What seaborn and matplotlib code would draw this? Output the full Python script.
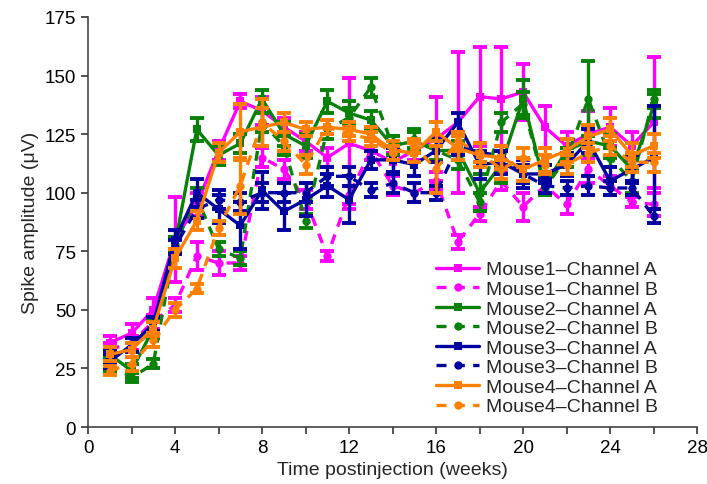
import numpy as np
import pandas as pd
import matplotlib
matplotlib.use("Agg")
import matplotlib.pyplot as plt
import seaborn as sns
from matplotlib.ticker import MultipleLocator, FuncFormatter

weeks = list(range(1, 27))

m1a = [36, 40, 50, 80, 95, 118, 139, 135, 128, 122, 115, 121, 118, 113, 118, 123, 130, 141, 140, 143, 128, 120, 125, 128, 120, 130]
m1a_err = [3, 4, 5, 18, 5, 4, 3, 6, 4, 4, 4, 28, 4, 4, 4, 18, 30, 21, 22, 12, 9, 6, 10, 8, 6, 28]
m1b = [33, 36, 45, 52, 73, 70, 70, 115, 110, 97, 73, 99, 118, 103, 100, 105, 79, 91, 105, 94, 103, 95, 110, 103, 96, 95]
m1b_err = [3, 3, 3, 3, 6, 5, 3, 4, 4, 4, 2, 4, 4, 4, 4, 4, 3, 3, 4, 6, 4, 4, 6, 4, 2, 5]
m2a = [31, 24, 42, 78, 127, 116, 121, 140, 125, 120, 139, 134, 131, 120, 122, 118, 118, 100, 112, 140, 103, 118, 122, 120, 110, 137]
m2a_err = [3, 3, 4, 3, 5, 4, 4, 4, 5, 5, 5, 5, 4, 4, 4, 5, 4, 8, 8, 8, 4, 5, 6, 5, 6, 5]
m2b = [27, 21, 27, 78, 98, 76, 72, 130, 120, 88, 127, 132, 145, 120, 123, 118, 114, 96, 130, 138, 102, 115, 140, 115, 105, 140]
m2b_err = [3, 2, 2, 3, 4, 3, 3, 4, 4, 3, 4, 4, 4, 4, 4, 4, 4, 4, 4, 5, 3, 4, 16, 4, 5, 4]
m3a = [28, 35, 44, 80, 100, 93, 86, 101, 92, 97, 103, 97, 114, 114, 112, 118, 130, 112, 113, 108, 108, 112, 122, 105, 110, 115]
m3a_err = [3, 3, 3, 4, 6, 6, 10, 8, 8, 7, 5, 10, 4, 5, 5, 5, 4, 6, 5, 6, 4, 5, 5, 6, 6, 22]
m3b = [30, 33, 42, 77, 93, 97, 96, 100, 100, 100, 107, 107, 101, 104, 100, 100, 120, 117, 116, 108, 103, 102, 103, 102, 102, 90]
m3b_err = [3, 3, 3, 3, 4, 4, 4, 4, 4, 4, 4, 4, 3, 4, 4, 3, 4, 4, 4, 4, 3, 3, 4, 3, 3, 3]
m4a = [31, 33, 42, 72, 88, 117, 126, 128, 130, 127, 128, 127, 125, 118, 117, 126, 119, 116, 115, 110, 114, 118, 124, 127, 116, 120]
m4a_err = [3, 3, 3, 4, 4, 4, 12, 8, 4, 3, 3, 3, 3, 4, 4, 4, 5, 5, 5, 5, 5, 5, 5, 5, 5, 5]
m4b = [24, 27, 37, 50, 59, 85, 103, 130, 122, 112, 128, 125, 123, 117, 120, 110, 122, 117, 110, 115, 112, 112, 117, 120, 113, 113]
m4b_err = [2, 3, 3, 3, 2, 3, 12, 10, 4, 4, 3, 3, 3, 3, 3, 10, 4, 4, 4, 4, 4, 4, 4, 4, 4, 4]

labels = ["Mouse1\u2013Channel A", "Mouse1\u2013Channel B",
          "Mouse2\u2013Channel A", "Mouse2\u2013Channel B",
          "Mouse3\u2013Channel A", "Mouse3\u2013Channel B",
          "Mouse4\u2013Channel A", "Mouse4\u2013Channel B"]
series = [m1a, m1b, m2a, m2b, m3a, m3b, m4a, m4b]
errors = [m1a_err, m1b_err, m2a_err, m2b_err, m3a_err, m3b_err, m4a_err, m4b_err]

colors = ["#FF00FF", "#FF00FF", "#078107", "#078107",
          "#0000A0", "#0000A0", "#FF8000", "#FF8000"]

sns.set_theme(style="ticks")
plt.rcParams['font.family'] = ['Liberation Sans', 'DejaVu Sans']

fig = plt.figure(figsize=(7.07, 4.85), dpi=100)
ax = fig.add_axes([0.1245, 0.1175, 0.8615, 0.8455])

for i, (lab, vals, errs, col) in enumerate(zip(labels, series, errors, colors)):
    df = pd.DataFrame({"week": weeks, "amp": vals})
    chan_b = (i % 2 == 1)
    ax.errorbar(weeks, vals, yerr=errs, fmt='none', ecolor=col,
                elinewidth=2.4, capsize=5, capthick=2.8, zorder=2 + i)
    sns.lineplot(data=df, x="week", y="amp", ax=ax, color=col,
                 linewidth=2.4, marker='o' if chan_b else 's',
                 markersize=6, markeredgewidth=0,
                 dashes=False, label=lab, zorder=2 + i, legend=False)
    line = ax.lines[-1]
    if chan_b:
        line.set_linestyle((0, (3.0, 2.5)))

ax.set_xlim(0, 28)
ax.set_ylim(0, 175)
ax.xaxis.set_major_locator(MultipleLocator(2))
ax.xaxis.set_major_formatter(FuncFormatter(lambda v, p: f"{int(v)}" if int(round(v)) % 4 == 0 else ""))
ax.yaxis.set_major_locator(MultipleLocator(25))
ax.tick_params(axis='both', direction='out', length=5, width=1.2, labelsize=13.5, colors='#333333', labelcolor='black')
for s in ['top', 'right']:
    ax.spines[s].set_visible(False)
for s in ['left', 'bottom']:
    ax.spines[s].set_linewidth(1.2)
    ax.spines[s].set_color('#444444')

ax.set_xlabel("Time postinjection (weeks)", fontsize=14)
ax.set_ylabel("Spike amplitude (\u03bcV)", fontsize=14)

handles = [l for l in ax.lines if l.get_label() in labels]
leg = ax.legend(handles=handles, labels=labels, loc='lower right',
                bbox_to_anchor=(0.955, 0.0), frameon=False, fontsize=14,
                handlelength=2.2, handletextpad=0.35, labelspacing=0.1,
                borderaxespad=0.2)

fig.savefig("out.png", dpi=100)
